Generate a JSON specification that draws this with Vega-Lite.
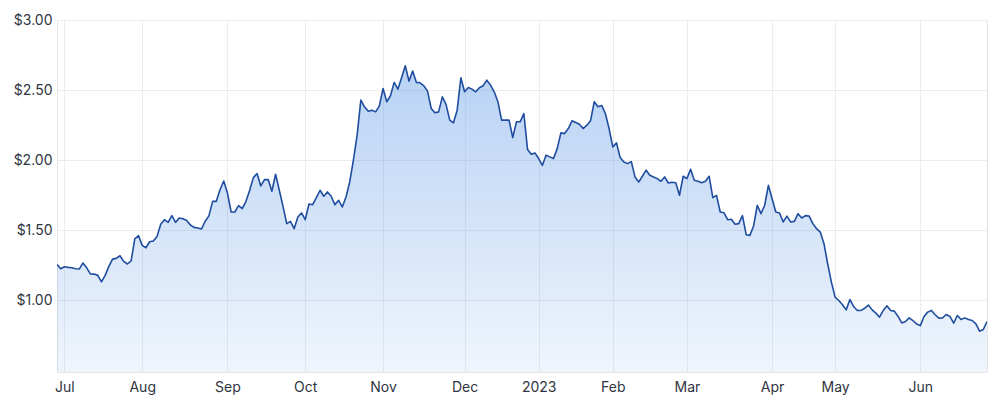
{
  "$schema": "https://vega.github.io/schema/vega-lite/v6.json",
  "width": 930,
  "height": 352,
  "autosize": {"type": "none"},
  "padding": {"left": 57, "top": 20, "right": 13, "bottom": 28},
  "background": "#ffffff",
  "config": {
    "view": {"stroke": "#e4e4e4", "strokeWidth": 1},
    "font": "Inter",
    "axis": {
      "labelFont": "Inter",
      "labelFontSize": 14,
      "labelColor": "#2f3541",
      "gridColor": "#ececec",
      "gridWidth": 1,
      "domain": false,
      "ticks": false,
      "title": null
    }
  },
  "data": {
    "values": [
      {"day": 0, "price": 1.257}, {"day": 1, "price": 1.226}, {"day": 2, "price": 1.24}, {"day": 3, "price": 1.236},
      {"day": 4, "price": 1.233}, {"day": 5, "price": 1.226}, {"day": 6, "price": 1.224}, {"day": 7, "price": 1.267},
      {"day": 8, "price": 1.233}, {"day": 9, "price": 1.19}, {"day": 10, "price": 1.188}, {"day": 11, "price": 1.179},
      {"day": 12, "price": 1.133}, {"day": 13, "price": 1.179}, {"day": 14, "price": 1.243}, {"day": 15, "price": 1.295},
      {"day": 16, "price": 1.3}, {"day": 17, "price": 1.319}, {"day": 18, "price": 1.279}, {"day": 19, "price": 1.26},
      {"day": 20, "price": 1.283}, {"day": 21, "price": 1.44}, {"day": 22, "price": 1.462}, {"day": 23, "price": 1.393},
      {"day": 24, "price": 1.376}, {"day": 25, "price": 1.419}, {"day": 26, "price": 1.424}, {"day": 27, "price": 1.457},
      {"day": 28, "price": 1.543}, {"day": 29, "price": 1.576}, {"day": 30, "price": 1.557}, {"day": 31, "price": 1.605},
      {"day": 32, "price": 1.557}, {"day": 33, "price": 1.588}, {"day": 34, "price": 1.583}, {"day": 35, "price": 1.571},
      {"day": 36, "price": 1.538}, {"day": 37, "price": 1.521}, {"day": 38, "price": 1.517}, {"day": 39, "price": 1.51},
      {"day": 40, "price": 1.565}, {"day": 41, "price": 1.603}, {"day": 42, "price": 1.707}, {"day": 43, "price": 1.707},
      {"day": 44, "price": 1.79}, {"day": 45, "price": 1.852}, {"day": 46, "price": 1.767}, {"day": 47, "price": 1.631},
      {"day": 48, "price": 1.631}, {"day": 49, "price": 1.676}, {"day": 50, "price": 1.655}, {"day": 51, "price": 1.707},
      {"day": 52, "price": 1.786}, {"day": 53, "price": 1.876}, {"day": 54, "price": 1.905}, {"day": 55, "price": 1.817},
      {"day": 56, "price": 1.862}, {"day": 57, "price": 1.862}, {"day": 58, "price": 1.779}, {"day": 59, "price": 1.9},
      {"day": 60, "price": 1.786}, {"day": 61, "price": 1.671}, {"day": 62, "price": 1.548}, {"day": 63, "price": 1.564},
      {"day": 64, "price": 1.512}, {"day": 65, "price": 1.595}, {"day": 66, "price": 1.624}, {"day": 67, "price": 1.576},
      {"day": 68, "price": 1.688}, {"day": 69, "price": 1.683}, {"day": 70, "price": 1.733}, {"day": 71, "price": 1.786},
      {"day": 72, "price": 1.743}, {"day": 73, "price": 1.774}, {"day": 74, "price": 1.743}, {"day": 75, "price": 1.683},
      {"day": 76, "price": 1.714}, {"day": 77, "price": 1.667}, {"day": 78, "price": 1.738}, {"day": 79, "price": 1.845},
      {"day": 80, "price": 2.0}, {"day": 81, "price": 2.179}, {"day": 82, "price": 2.429}, {"day": 83, "price": 2.381},
      {"day": 84, "price": 2.35}, {"day": 85, "price": 2.357}, {"day": 86, "price": 2.345}, {"day": 87, "price": 2.388},
      {"day": 88, "price": 2.512}, {"day": 89, "price": 2.417}, {"day": 90, "price": 2.46}, {"day": 91, "price": 2.555},
      {"day": 92, "price": 2.507}, {"day": 93, "price": 2.588}, {"day": 94, "price": 2.674}, {"day": 95, "price": 2.564},
      {"day": 96, "price": 2.636}, {"day": 97, "price": 2.555}, {"day": 98, "price": 2.552}, {"day": 99, "price": 2.531},
      {"day": 100, "price": 2.493}, {"day": 101, "price": 2.369}, {"day": 102, "price": 2.338}, {"day": 103, "price": 2.345},
      {"day": 104, "price": 2.452}, {"day": 105, "price": 2.398}, {"day": 106, "price": 2.286}, {"day": 107, "price": 2.267},
      {"day": 108, "price": 2.357}, {"day": 109, "price": 2.588}, {"day": 110, "price": 2.488}, {"day": 111, "price": 2.519},
      {"day": 112, "price": 2.507}, {"day": 113, "price": 2.488}, {"day": 114, "price": 2.517}, {"day": 115, "price": 2.531},
      {"day": 116, "price": 2.571}, {"day": 117, "price": 2.536}, {"day": 118, "price": 2.488}, {"day": 119, "price": 2.417},
      {"day": 120, "price": 2.286}, {"day": 121, "price": 2.286}, {"day": 122, "price": 2.286}, {"day": 123, "price": 2.162},
      {"day": 124, "price": 2.274}, {"day": 125, "price": 2.274}, {"day": 126, "price": 2.333}, {"day": 127, "price": 2.076},
      {"day": 128, "price": 2.043}, {"day": 129, "price": 2.052}, {"day": 130, "price": 2.012}, {"day": 131, "price": 1.964},
      {"day": 132, "price": 2.036}, {"day": 133, "price": 2.024}, {"day": 134, "price": 2.012}, {"day": 135, "price": 2.083},
      {"day": 136, "price": 2.195}, {"day": 137, "price": 2.19}, {"day": 138, "price": 2.226}, {"day": 139, "price": 2.281},
      {"day": 140, "price": 2.269}, {"day": 141, "price": 2.257}, {"day": 142, "price": 2.226}, {"day": 143, "price": 2.25},
      {"day": 144, "price": 2.281}, {"day": 145, "price": 2.417}, {"day": 146, "price": 2.381}, {"day": 147, "price": 2.391},
      {"day": 148, "price": 2.333}, {"day": 149, "price": 2.226}, {"day": 150, "price": 2.095}, {"day": 151, "price": 2.124},
      {"day": 152, "price": 2.019}, {"day": 153, "price": 1.988}, {"day": 154, "price": 1.976}, {"day": 155, "price": 1.99},
      {"day": 156, "price": 1.881}, {"day": 157, "price": 1.845}, {"day": 158, "price": 1.886}, {"day": 159, "price": 1.929},
      {"day": 160, "price": 1.893}, {"day": 161, "price": 1.881}, {"day": 162, "price": 1.869}, {"day": 163, "price": 1.85},
      {"day": 164, "price": 1.881}, {"day": 165, "price": 1.838}, {"day": 166, "price": 1.843}, {"day": 167, "price": 1.84},
      {"day": 168, "price": 1.75}, {"day": 169, "price": 1.886}, {"day": 170, "price": 1.869}, {"day": 171, "price": 1.936},
      {"day": 172, "price": 1.857}, {"day": 173, "price": 1.85}, {"day": 174, "price": 1.84}, {"day": 175, "price": 1.85},
      {"day": 176, "price": 1.886}, {"day": 177, "price": 1.733}, {"day": 178, "price": 1.75}, {"day": 179, "price": 1.631},
      {"day": 180, "price": 1.626}, {"day": 181, "price": 1.576}, {"day": 182, "price": 1.579}, {"day": 183, "price": 1.543},
      {"day": 184, "price": 1.548}, {"day": 185, "price": 1.605}, {"day": 186, "price": 1.469}, {"day": 187, "price": 1.464},
      {"day": 188, "price": 1.531}, {"day": 189, "price": 1.679}, {"day": 190, "price": 1.619}, {"day": 191, "price": 1.679},
      {"day": 192, "price": 1.821}, {"day": 193, "price": 1.726}, {"day": 194, "price": 1.631}, {"day": 195, "price": 1.624},
      {"day": 196, "price": 1.56}, {"day": 197, "price": 1.602}, {"day": 198, "price": 1.56}, {"day": 199, "price": 1.564},
      {"day": 200, "price": 1.619}, {"day": 201, "price": 1.588}, {"day": 202, "price": 1.605}, {"day": 203, "price": 1.602},
      {"day": 204, "price": 1.548}, {"day": 205, "price": 1.512}, {"day": 206, "price": 1.488}, {"day": 207, "price": 1.405},
      {"day": 208, "price": 1.262}, {"day": 209, "price": 1.131}, {"day": 210, "price": 1.024}, {"day": 211, "price": 1.0},
      {"day": 212, "price": 0.969}, {"day": 213, "price": 0.933}, {"day": 214, "price": 1.007}, {"day": 215, "price": 0.957},
      {"day": 216, "price": 0.929}, {"day": 217, "price": 0.929}, {"day": 218, "price": 0.945}, {"day": 219, "price": 0.967},
      {"day": 220, "price": 0.933}, {"day": 221, "price": 0.91}, {"day": 222, "price": 0.881}, {"day": 223, "price": 0.929},
      {"day": 224, "price": 0.962}, {"day": 225, "price": 0.929}, {"day": 226, "price": 0.924}, {"day": 227, "price": 0.886},
      {"day": 228, "price": 0.84}, {"day": 229, "price": 0.85}, {"day": 230, "price": 0.876}, {"day": 231, "price": 0.857},
      {"day": 232, "price": 0.833}, {"day": 233, "price": 0.821}, {"day": 234, "price": 0.886}, {"day": 235, "price": 0.917},
      {"day": 236, "price": 0.929}, {"day": 237, "price": 0.898}, {"day": 238, "price": 0.874}, {"day": 239, "price": 0.876},
      {"day": 240, "price": 0.9}, {"day": 241, "price": 0.886}, {"day": 242, "price": 0.838}, {"day": 243, "price": 0.893},
      {"day": 244, "price": 0.864}, {"day": 245, "price": 0.876}, {"day": 246, "price": 0.864}, {"day": 247, "price": 0.857},
      {"day": 248, "price": 0.833}, {"day": 249, "price": 0.781}, {"day": 250, "price": 0.793}, {"day": 251, "price": 0.85}
    ]
  },
  "encoding": {
    "x": {
      "field": "day",
      "type": "quantitative",
      "scale": {"domain": [0, 251], "nice": false, "zero": false},
      "axis": {
        "values": [2, 23, 46, 67, 88, 110, 130, 150, 170, 193, 210, 233],
        "labelExpr": "['Jul','Aug','Sep','Oct','Nov','Dec','2023','Feb','Mar','Apr','May','Jun'][indexof([2,23,46,67,88,110,130,150,170,193,210,233], datum.value)]",
        "labelPadding": 8,
        "labelFlush": false,
        "labelOverlap": false
      }
    },
    "y": {
      "field": "price",
      "type": "quantitative",
      "scale": {"domain": [0.49, 3.0], "nice": false, "zero": false},
      "axis": {
        "values": [1.0, 1.5, 2.0, 2.5, 3.0],
        "format": "$.2f",
        "labelPadding": 5,
        "labelFlush": false
      }
    }
  },
  "layer": [
    {
      "mark": {
        "type": "area",
        "clip": true,
        "color": {
          "gradient": "linear",
          "x1": 0, "y1": 1, "x2": 0, "y2": 0,
          "stops": [
            {"offset": 0, "color": "rgba(90,150,230,0.02)"},
            {"offset": 1, "color": "rgba(90,150,230,0.43)"}
          ]
        }
      }
    },
    {
      "mark": {"type": "line", "clip": true, "color": "#1f4d9f", "strokeWidth": 1.6, "strokeJoin": "round"}
    }
  ]
}
